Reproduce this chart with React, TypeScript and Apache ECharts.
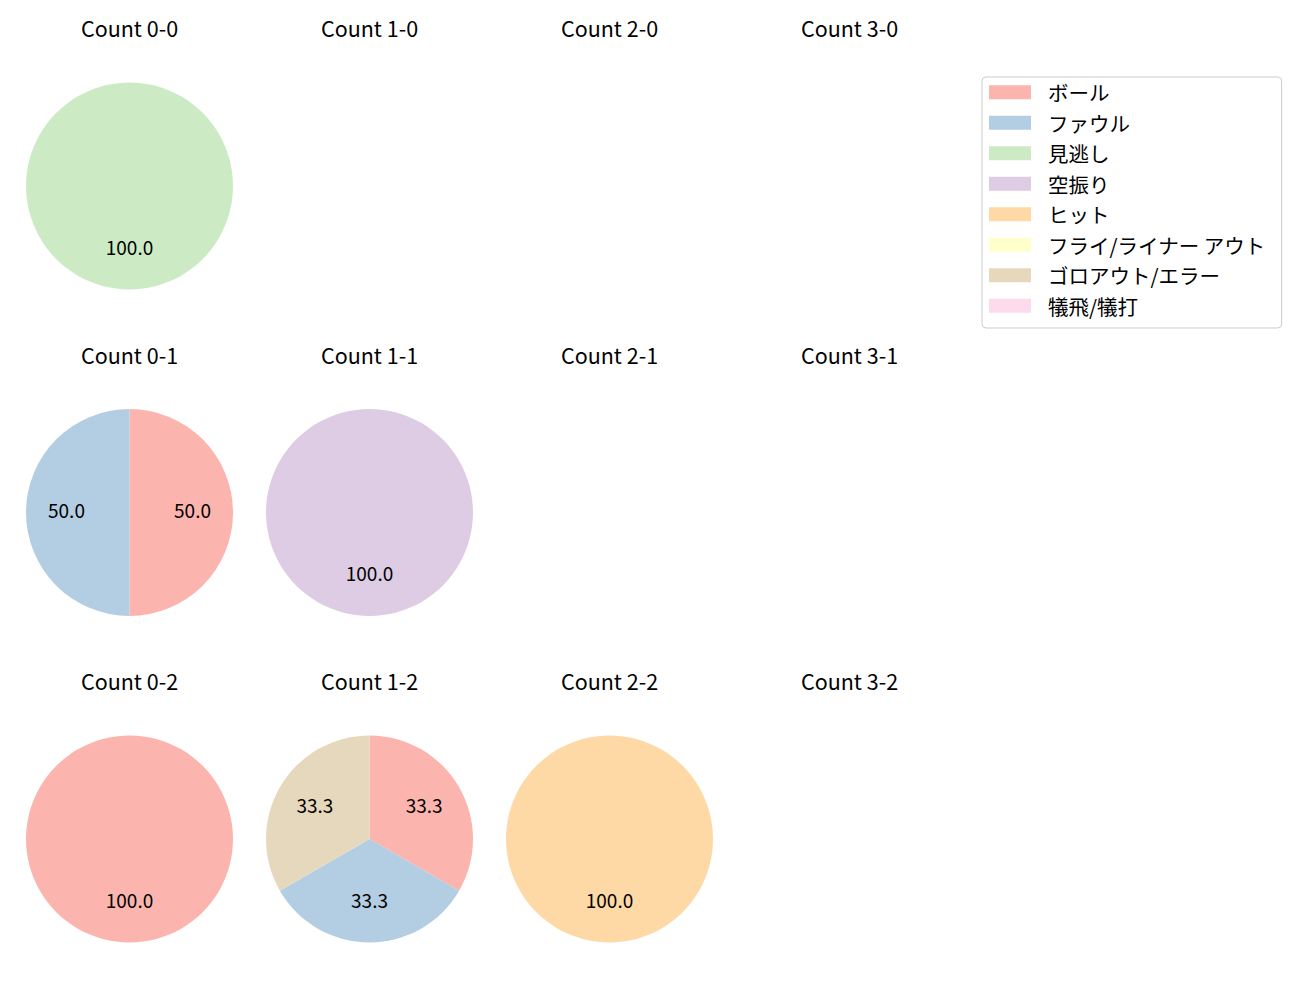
import React, { useEffect, useRef } from "react";
import * as echarts from "echarts";

const categories = [
  "ボール",
  "ファウル",
  "見逃し",
  "空振り",
  "ヒット",
  "フライ/ライナー アウト",
  "ゴロアウト/エラー",
  "犠飛/犠打",
];
const colors = ["#fbb4ae", "#b3cde3", "#ccebc5", "#decbe4", "#fed9a6", "#ffffcc", "#e5d8bd", "#fddaec"];

// values per category (same order as categories), per count ball-strike
const count00 = [0, 0, 1, 0, 0, 0, 0, 0];
const count10 = [0, 0, 0, 0, 0, 0, 0, 0];
const count20 = [0, 0, 0, 0, 0, 0, 0, 0];
const count30 = [0, 0, 0, 0, 0, 0, 0, 0];
const count01 = [1, 1, 0, 0, 0, 0, 0, 0];
const count11 = [0, 0, 0, 1, 0, 0, 0, 0];
const count21 = [0, 0, 0, 0, 0, 0, 0, 0];
const count31 = [0, 0, 0, 0, 0, 0, 0, 0];
const count02 = [1, 0, 0, 0, 0, 0, 0, 0];
const count12 = [1, 1, 0, 0, 0, 0, 1, 0];
const count22 = [0, 0, 0, 0, 1, 0, 0, 0];
const count32 = [0, 0, 0, 0, 0, 0, 0, 0];

const panels = [
  { balls: 0, strikes: 0, values: count00 },
  { balls: 1, strikes: 0, values: count10 },
  { balls: 2, strikes: 0, values: count20 },
  { balls: 3, strikes: 0, values: count30 },
  { balls: 0, strikes: 1, values: count01 },
  { balls: 1, strikes: 1, values: count11 },
  { balls: 2, strikes: 1, values: count21 },
  { balls: 3, strikes: 1, values: count31 },
  { balls: 0, strikes: 2, values: count02 },
  { balls: 1, strikes: 2, values: count12 },
  { balls: 2, strikes: 2, values: count22 },
  { balls: 3, strikes: 2, values: count32 },
];

const FONT = '"Noto Sans CJK JP", "Noto Sans", sans-serif';
const colX = [129.5, 369.5, 609.5, 849.5];
const rowY = [186, 512.5, 839];
const titleY = [29, 356, 682];
const R = 103.5;

function buildOption() {
  const titles = panels.map((p) => ({
    text: `Count ${p.balls}-${p.strikes}`,
    left: colX[p.balls],
    top: titleY[p.strikes] - 15,
    textAlign: "center",
    padding: 0,
    textStyle: { fontSize: 21.5, fontWeight: "normal", color: "#000", fontFamily: FONT, lineHeight: 26 },
  }));

  const series: any[] = [
    {
      type: "pie",
      name: "legend-source",
      radius: 0,
      center: [-100, -100],
      silent: true,
      label: { show: false },
      labelLine: { show: false },
      data: categories.map((c, i) => ({ name: c, value: 1, itemStyle: { color: colors[i] } })),
    },
  ];

  panels.forEach((p) => {
    const data = categories
      .map((c, i) => ({ name: c, value: p.values[i], color: colors[i] }))
      .filter((d) => d.value > 0);
    if (data.length === 0) return;
    const center = [colX[p.balls], rowY[p.strikes]];
    series.push({
      type: "pie",
      center,
      radius: R,
      startAngle: 90,
      clockwise: true,
      silent: true,
      avoidLabelOverlap: false,
      label: { show: false },
      labelLine: { show: false },
      itemStyle: { borderWidth: 0 },
      emphasis: { disabled: true },
      data: data.map((d) => ({ name: d.name, value: d.value, itemStyle: { color: d.color } })),
    });
    series.push({
      type: "pie",
      center,
      radius: [R * 0.16, R],
      startAngle: 90,
      clockwise: true,
      silent: true,
      avoidLabelOverlap: false,
      percentPrecision: 2,
      itemStyle: { borderWidth: 0, color: "rgba(0,0,0,0)" },
      emphasis: { disabled: true },
      label: {
        show: true,
        position: "inside",
        color: "#000",
        fontSize: 19,
        fontFamily: FONT,
        formatter: (q: any) => `{v|${Number(q.percent).toFixed(1)}}\n{s| }`,
        rich: {
          v: { fontSize: 19, lineHeight: 22, color: "#000", fontFamily: FONT },
          s: { fontSize: 1, lineHeight: 6 },
        },
      },
      labelLine: { show: false },
      data: data.map((d) => ({ name: d.name, value: d.value, itemStyle: { color: "rgba(0,0,0,0)" } })),
    });
  });

  return {
    animation: false,
    backgroundColor: "#ffffff",
    title: titles,
    legend: {
      orient: "vertical",
      left: 982,
      top: 77,
      data: categories,
      icon: "rect",
      itemWidth: 42,
      itemHeight: 14,
      itemGap: 10,
      padding: [5, 16, 12, 7],
      backgroundColor: "#ffffff",
      borderColor: "#cccccc",
      borderWidth: 1,
      borderRadius: 4,
      selectedMode: false,
      textStyle: { fontSize: 20.5, lineHeight: 20, color: "#000", fontFamily: FONT, padding: [0, 0, 0, 12] },
    },
    series,
  };
}

export default function App() {
  const ref = useRef<HTMLDivElement>(null);
  useEffect(() => {
    if (!ref.current) return;
    const chart = echarts.init(ref.current, null, { renderer: "svg" });
    chart.setOption(buildOption() as any);
    return () => chart.dispose();
  }, []);
  return (
    <div
      ref={ref}
      style={{ position: "fixed", left: 0, top: 0, width: 1300, height: 1000, background: "#fff" }}
    />
  );
}
